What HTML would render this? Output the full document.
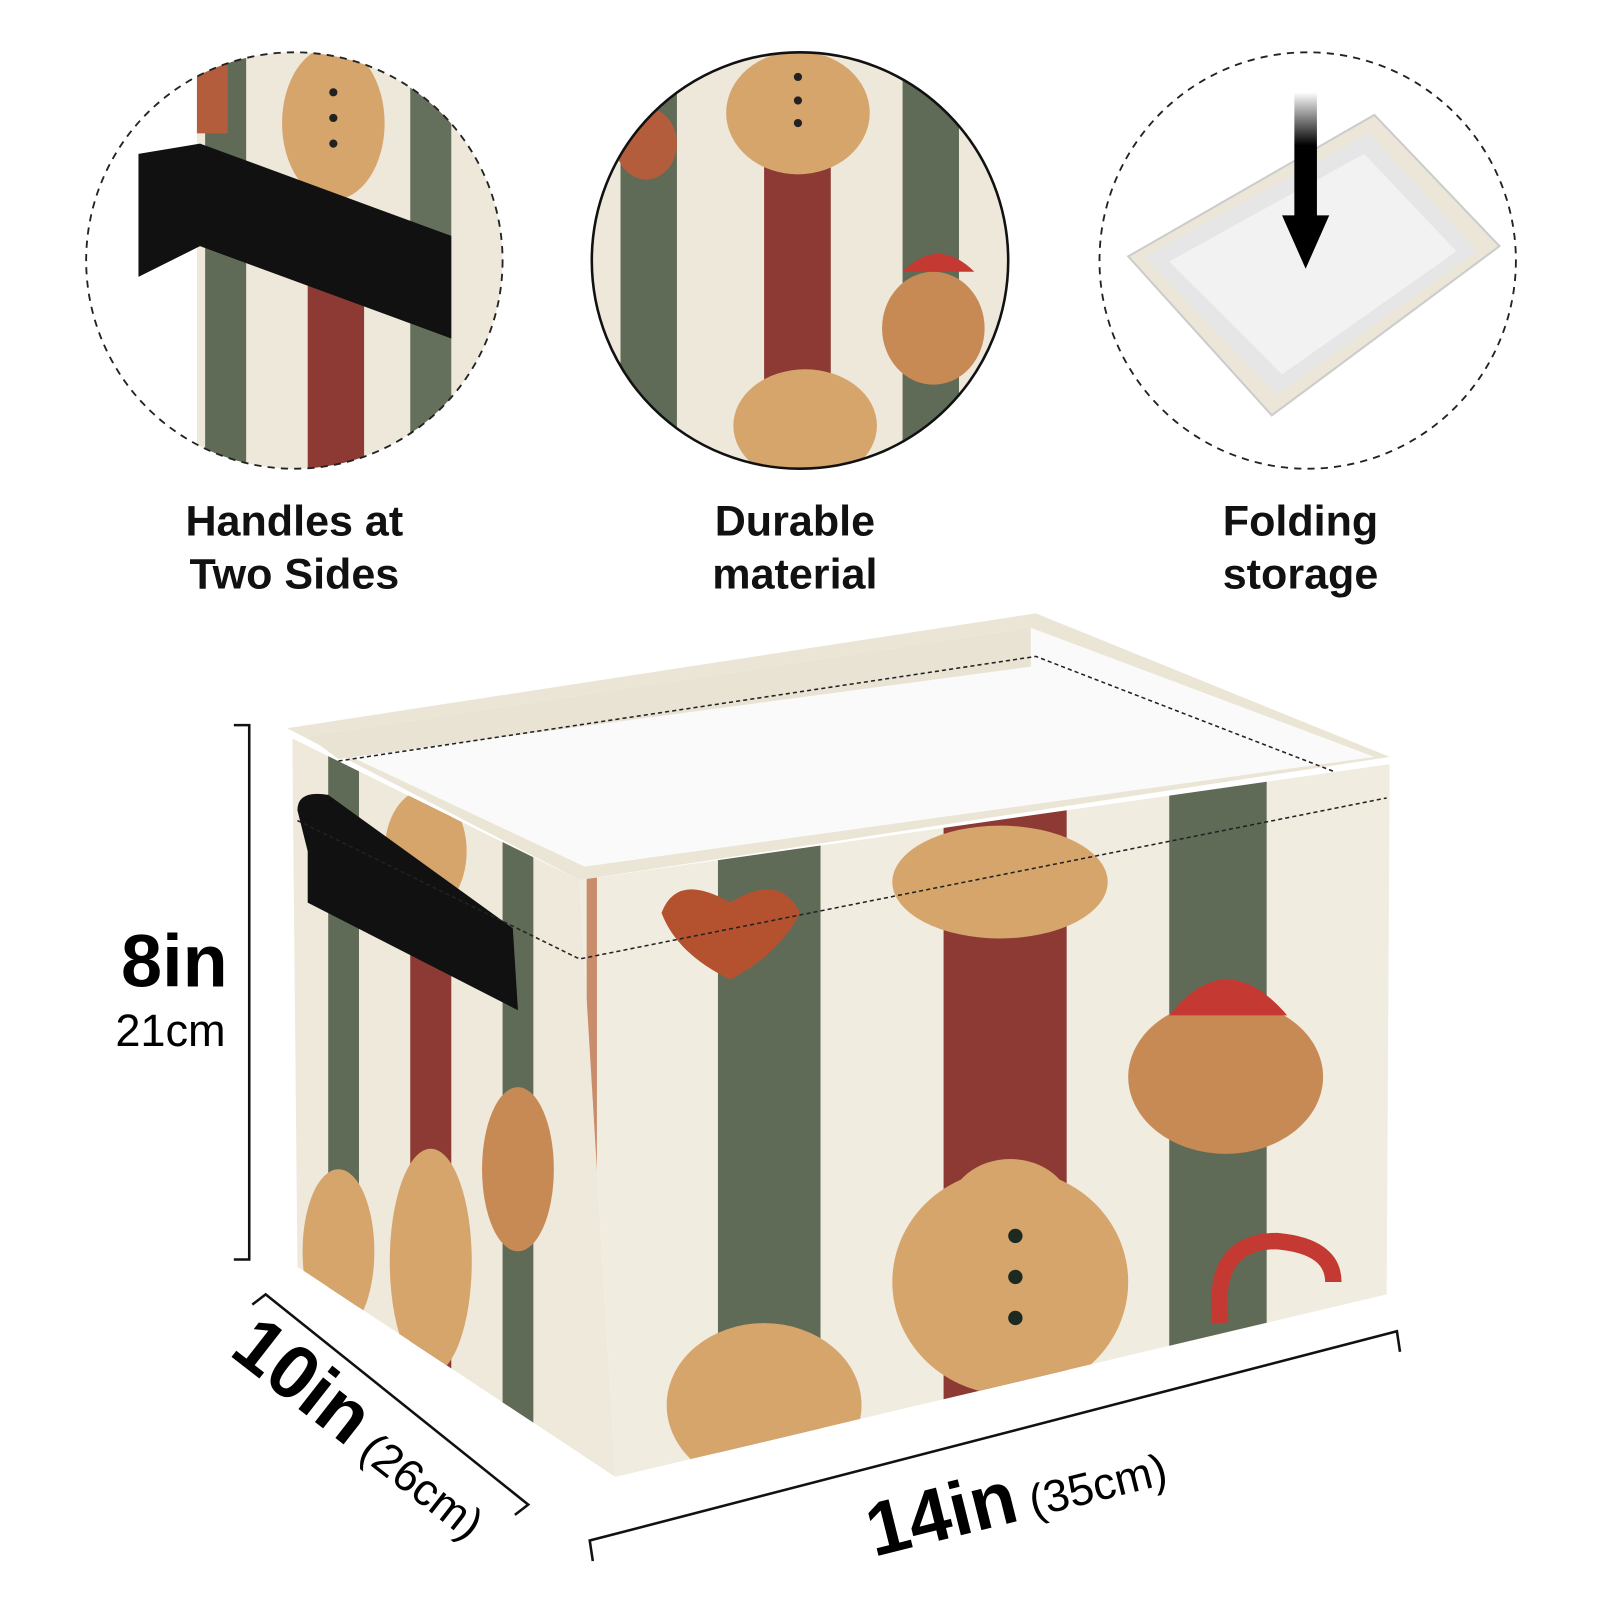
<!DOCTYPE html>
<html><head><meta charset="utf-8"><style>
html,body{margin:0;padding:0;background:#fff;}
svg{display:block;}
text{font-family:"Liberation Sans Narrow","Liberation Sans",sans-serif;}
</style></head><body>
<svg width="1600" height="1600" viewBox="0 0 1560 1560" xmlns="http://www.w3.org/2000/svg">
<defs>
<clipPath id="c1"><circle cx="287" cy="254" r="203"/></clipPath>
<clipPath id="c2"><circle cx="780" cy="254" r="203"/></clipPath>
<clipPath id="front"><polygon points="565,858 1355,745 1352,1262 600,1440"/></clipPath>
<clipPath id="side"><polygon points="285,720 565,858 600,1440 290,1235"/></clipPath>
<linearGradient id="arr" x1="0" y1="0" x2="0" y2="1"><stop offset="0" stop-color="#fff"/><stop offset="0.4" stop-color="#000"/></linearGradient>
</defs>

<g clip-path="url(#c1)">
<rect x="84" y="50" width="410" height="410" fill="#fff"/>
<rect x="192" y="50" width="300" height="410" fill="#eee8da"/>
<rect x="200" y="50" width="40" height="410" fill="#5f6b57"/>
<rect x="300" y="260" width="55" height="200" fill="#8c3a33"/>
<rect x="400" y="50" width="40" height="410" fill="#65705c"/>
<ellipse cx="325" cy="120" rx="50" ry="75" fill="#d6a56c"/>
<circle cx="325" cy="90" r="4" fill="#222"/><circle cx="325" cy="115" r="4" fill="#222"/><circle cx="325" cy="140" r="4" fill="#222"/>
<rect x="192" y="60" width="30" height="70" fill="#b45d3c"/>
<path d="M135 150 L195 140 L440 230 L440 330 L195 240 L135 270 Z" fill="#111"/>
</g>
<circle cx="287" cy="254" r="203" fill="none" stroke="#222" stroke-width="1.8" stroke-dasharray="7 6"/>

<g clip-path="url(#c2)">
<rect x="570" y="50" width="420" height="420" fill="#eee8da"/>
<rect x="605" y="50" width="55" height="420" fill="#5f6b57"/>
<rect x="745" y="140" width="65" height="330" fill="#8c3a33"/>
<rect x="880" y="50" width="55" height="420" fill="#5f6b57"/>
<ellipse cx="778" cy="110" rx="70" ry="60" fill="#d6a56c"/>
<circle cx="778" cy="75" r="4" fill="#222"/><circle cx="778" cy="98" r="4" fill="#222"/><circle cx="778" cy="120" r="4" fill="#222"/>
<ellipse cx="785" cy="415" rx="70" ry="55" fill="#d6a56c"/>
<ellipse cx="910" cy="320" rx="50" ry="55" fill="#c88a55"/>
<path d="M880 265 Q915 230 950 265 Z" fill="#c43a32"/>
<ellipse cx="630" cy="140" rx="30" ry="35" fill="#b45d3c"/>
</g>
<circle cx="780" cy="254" r="203" fill="none" stroke="#111" stroke-width="2.5"/>

<polygon points="1100,250 1340,112 1462,240 1240,405" fill="#ece6d8" stroke="#ccc" stroke-width="2"/>
<polygon points="1115,250 1335,130 1440,245 1245,385" fill="#e6e6e6"/>
<polygon points="1140,255 1330,150 1420,245 1250,365" fill="#f2f2f2"/>
<rect x="1262" y="90" width="22" height="130" fill="url(#arr)"/>
<polygon points="1250,210 1296,210 1273,262" fill="#000"/>
<circle cx="1275" cy="254" r="203" fill="none" stroke="#222" stroke-width="1.8" stroke-dasharray="7 6"/>

<g font-weight="bold" font-size="42" text-anchor="middle" fill="#111">
<text x="287" y="522">Handles at</text><text x="287" y="574">Two Sides</text>
<text x="775" y="522">Durable</text><text x="775" y="574">material</text>
<text x="1268" y="522">Folding</text><text x="1268" y="574">storage</text>
</g>

<polygon points="280,710 1010,598 1355,738 565,858" fill="#ebe5d6"/>
<polygon points="300,718 1005,612 1340,738 570,845" fill="#fafafa"/>
<polygon points="300,718 1005,612 1005,650 330,740" fill="#e9e3d4"/>
<g clip-path="url(#side)">
<rect x="280" y="700" width="320" height="760" fill="#efe9dc"/>
<rect x="320" y="700" width="30" height="760" fill="#5f6b57"/>
<rect x="400" y="700" width="40" height="760" fill="#8c3a33"/>
<rect x="490" y="700" width="30" height="760" fill="#5f6b57"/>
<ellipse cx="420" cy="1230" rx="40" ry="110" fill="#d6a56c"/>
<ellipse cx="330" cy="1220" rx="35" ry="80" fill="#d6a56c"/>
<ellipse cx="505" cy="1140" rx="35" ry="80" fill="#c88a55"/>
<ellipse cx="415" cy="830" rx="40" ry="60" fill="#d6a56c"/>
</g>
<g clip-path="url(#front)">
<rect x="560" y="740" width="800" height="710" fill="#f1ece0"/>
<rect x="700" y="740" width="100" height="710" fill="#5f6b57"/>
<rect x="920" y="740" width="120" height="710" fill="#8c3a33"/>
<rect x="1140" y="740" width="95" height="710" fill="#5f6b57"/>
<rect x="572" y="740" width="10" height="710" fill="#c98d6c"/>
<path d="M645 890 Q660 850 712 880 Q760 850 780 890 Q760 930 712 955 Q660 930 645 890Z" fill="#b4522f"/>
<ellipse cx="975" cy="860" rx="105" ry="55" fill="#d6a56c"/>
<ellipse cx="985" cy="1250" rx="115" ry="110" fill="#d6a56c"/>
<ellipse cx="985" cy="1180" rx="60" ry="50" fill="#d6a56c"/>
<circle cx="990" cy="1205" r="7" fill="#1d2a22"/><circle cx="990" cy="1245" r="7" fill="#1d2a22"/><circle cx="990" cy="1285" r="7" fill="#1d2a22"/>
<ellipse cx="1195" cy="1050" rx="95" ry="75" fill="#c88a55"/>
<path d="M1140 990 Q1195 920 1255 990 Z" fill="#c43a32"/>
<ellipse cx="745" cy="1370" rx="95" ry="80" fill="#d6a56c"/>
<path d="M1190 1290 Q1180 1210 1245 1210 Q1300 1215 1300 1250" fill="none" stroke="#c43a32" stroke-width="16"/>
</g>
<path d="M300 830 L290 790 Q290 770 320 775 L500 905 L505 985 L300 880 Z" fill="#111"/>
<path d="M290 800 L565 935 L1352 778" fill="none" stroke="#222" stroke-width="1.5" stroke-dasharray="4 3"/>
<path d="M330 742 L1010 640 L1300 752" fill="none" stroke="#222" stroke-width="1.5" stroke-dasharray="4 3"/>

<g stroke="#111" stroke-width="2.5" fill="none">
<path d="M228 707 H243 V1228 H228"/>
<path d="M246 1272 L259 1262 L515 1467 L502 1477"/>
<path d="M578 1522 L575 1502 L1362 1298 L1365 1318"/>
</g>
<text x="222" y="962" font-size="72" font-weight="bold" text-anchor="end" fill="#000">8in</text>
<text x="220" y="1020" font-size="44" text-anchor="end" fill="#000">21cm</text>
<g transform="translate(222,1320) rotate(38)"><text font-size="74" font-weight="bold" fill="#000">10in<tspan font-size="44" font-weight="normal"> (26cm)</tspan></text></g>
<g transform="translate(852,1518) rotate(-14)"><text font-size="74" font-weight="bold" fill="#000">14in<tspan font-size="44" font-weight="normal"> (35cm)</tspan></text></g>
</svg>
</body></html>
